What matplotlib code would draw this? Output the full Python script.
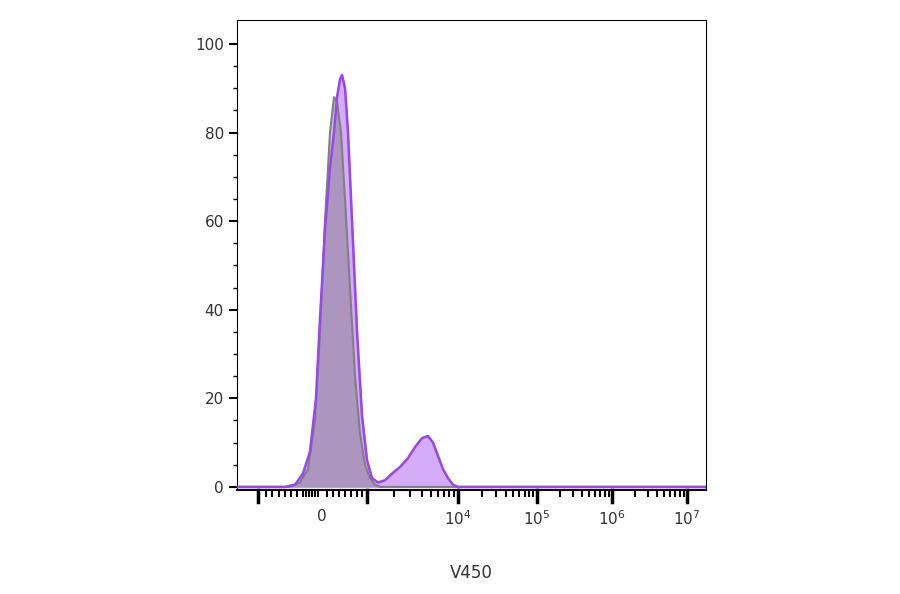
import matplotlib
matplotlib.use("Agg")
import matplotlib.pyplot as plt
import numpy as np

# x in display units of the biexponential axis (axis spans 237..706)
gray_x = [237, 290, 300, 308, 315, 320, 325, 330, 334, 337, 341, 345, 350, 355, 360, 365, 370, 375, 380, 706]
gray_y = [0, 0, 1, 4, 15, 35, 60, 80, 88, 87, 80, 65, 45, 25, 12, 5, 2, 0.5, 0, 0]
purple_x = [237, 285, 295, 303, 310, 316, 320, 325, 330, 334, 337, 340, 342, 345, 348, 352, 357, 362, 367, 372,
            378, 385, 392, 400, 408, 415, 422, 428, 433, 438, 443, 448, 453, 458, 706]
purple_y = [0, 0, 0.5, 3, 8, 20, 38, 58, 72, 80, 88, 92, 93, 90, 80, 60, 35, 16, 6, 2,
            1, 1.5, 3, 4.5, 6.5, 9, 11, 11.5, 10, 7, 4, 2, 0.5, 0, 0]
xtick_pos = [322, 458, 537, 612, 687]
xtick_labels = ["0", "$10^4$", "$10^5$", "$10^6$", "$10^7$"]
decade_pos = [367, 458, 537, 612, 687]
linear_minor = [258, 266, 272, 279, 285, 291, 297, 303, 306, 309, 312, 315, 318, 327, 333, 339, 345, 351, 357, 362]

fig = plt.figure(figsize=(9, 5.94), dpi=100)
ax = fig.add_axes([237/900, 104/594, 469/900, 470/594])
ax.fill_between(purple_x, purple_y, color="#d5acf8", zorder=1)
ax.fill_between(gray_x, gray_y, color="#7a7a7a", alpha=0.45, zorder=2, lw=0)
ax.plot(gray_x, gray_y, color="#808080", lw=1.5, zorder=3)
ax.plot(purple_x, purple_y, color="#9b45ee", lw=1.8, zorder=4)

ax.set_xlim(237, 706)
ax.set_ylim(-0.7, 105.4)
ax.set_xticks(xtick_pos)
ax.set_xticklabels(xtick_labels, fontsize=11, color="#333333")
minors = list(linear_minor)
for a, b in zip(decade_pos[:-1], decade_pos[1:]):
    for k in range(2, 10):
        minors.append(a + (b - a) * np.log10(k))
minors.append(367)
ax.set_xticks(minors, minor=True)
ax.tick_params(axis="x", which="major", length=0, pad=14)
for p in decade_pos + [258]:
    ax.plot([p, p], [-0.7, -3.5], color="black", lw=2.5, clip_on=False, zorder=5)
ax.tick_params(axis="x", which="minor", length=5, width=1.5, direction="out")
ax.set_yticks([0, 20, 40, 60, 80, 100])
ax.set_yticks(np.arange(0, 105, 5), minor=True)
ax.tick_params(axis="y", which="major", length=6, width=1.5, labelsize=11, labelcolor="#333333")
ax.tick_params(axis="y", which="minor", length=3, width=1)
for s in ax.spines.values():
    s.set_linewidth(0.8)
ax.spines["bottom"].set_linewidth(1.5)
ax.set_xlabel("V450", fontsize=12, color="#333333", labelpad=26)
fig.savefig("out.png", dpi=100)
